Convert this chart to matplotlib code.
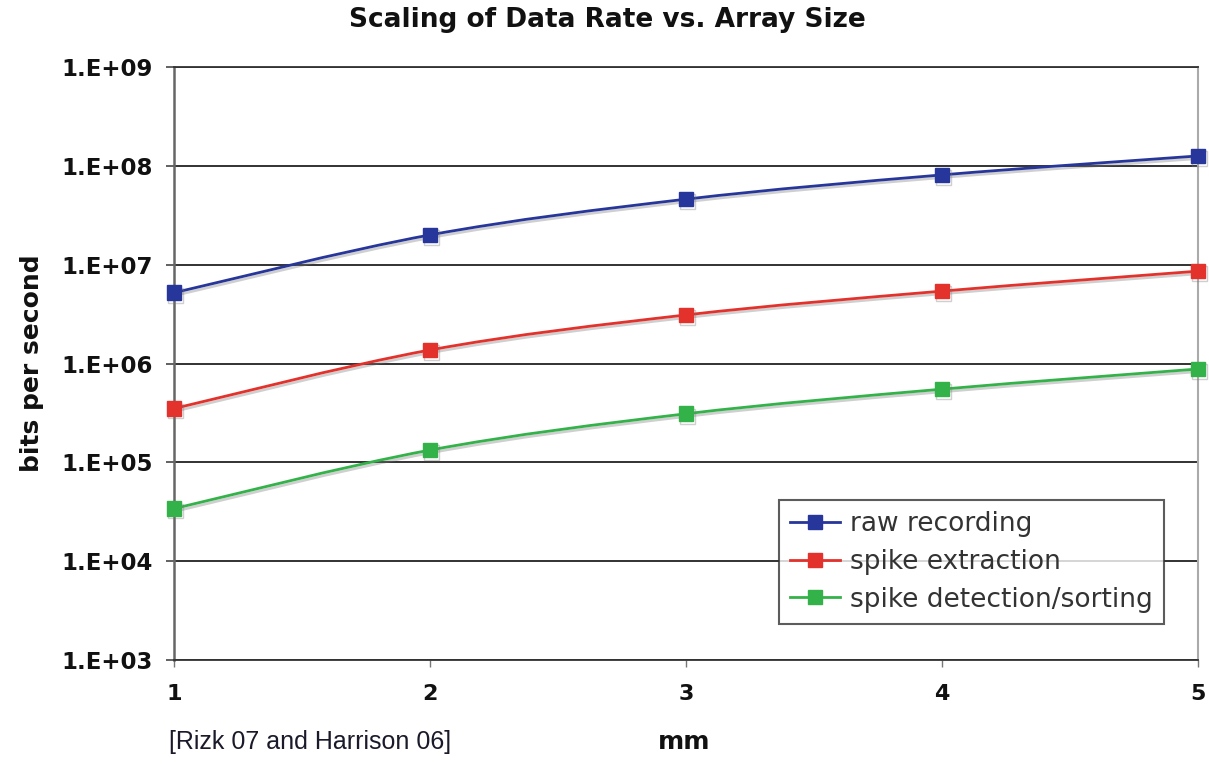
import math
import matplotlib
matplotlib.use("Agg")
import matplotlib.pyplot as plt
import matplotlib.patheffects as pe
from matplotlib.path import Path
from matplotlib.patches import PathPatch
from matplotlib.lines import Line2D
from matplotlib.ticker import FixedLocator, FuncFormatter

# ---- data ----
array_size_mm = [1, 2, 3, 4, 5]
raw_recording = [5.2e6, 2.0e7, 4.6e7, 8.1e7, 1.26e8]
spike_extraction = [3.5e5, 1.37e6, 3.1e6, 5.4e6, 8.6e6]
spike_detection_sorting = [3.4e4, 1.33e5, 3.1e5, 5.5e5, 8.8e5]
series_names = ["raw recording", "spike extraction", "spike detection/sorting"]
y_ticks = [1e3, 1e4, 1e5, 1e6, 1e7, 1e8, 1e9]

colors = ["#27369a", "#e3312c", "#34b24a"]

fig = plt.figure(figsize=(12.09, 7.66), dpi=100)
ax = fig.add_axes([0.1439, 0.1384, 0.9909 - 0.1439, 0.9125 - 0.1384])
ax.set_yscale("log")
ax.set_xlim(1, 5)
ax.set_ylim(1e3, 1e9)


def smooth_path(xs, ys):
    """Excel-style smoothed line: cubic Bezier segments through the data points
    (control points built in x / log10(y) space, drawn through the log axis)."""
    ly = [math.log10(v) for v in ys]
    n = len(xs)
    verts = [(xs[0], ys[0])]
    codes = [Path.MOVETO]
    for i in range(n - 1):
        xm, ym = (xs[i - 1], ly[i - 1]) if i > 0 else (xs[i], ly[i])
        xp2, yp2 = (xs[i + 2], ly[i + 2]) if i + 2 < n else (xs[i + 1], ly[i + 1])
        c1 = (xs[i] + (xs[i + 1] - xm) / 6, ly[i] + (ly[i + 1] - ym) / 6)
        c2 = (xs[i + 1] - (xp2 - xs[i]) / 6, ly[i + 1] - (yp2 - ly[i]) / 6)
        verts += [(c1[0], 10 ** c1[1]), (c2[0], 10 ** c2[1]), (xs[i + 1], ys[i + 1])]
        codes += [Path.CURVE4] * 3
    return Path(verts, codes)


shadow = [pe.SimpleLineShadow(offset=(1.2, -1.8), shadow_color="#777777", alpha=0.35), pe.Normal()]
handles = []
for vals, name, c in zip([raw_recording, spike_extraction, spike_detection_sorting], series_names, colors):
    patch = PathPatch(smooth_path(array_size_mm, vals), facecolor="none", edgecolor=c, lw=2.0,
                      transform=ax.transData, zorder=3, clip_on=False, path_effects=shadow)
    ax.add_patch(patch)
    ax.plot(array_size_mm, vals, ls="none", marker="s", markersize=10.5, color=c,
            markeredgecolor=c, clip_on=False, zorder=4, path_effects=shadow)
    handles.append(Line2D([], [], color=c, lw=2.0, marker="s", markersize=10, markeredgecolor=c,
                          label=name))

ax.yaxis.set_major_locator(FixedLocator(y_ticks))
ax.yaxis.set_minor_locator(FixedLocator([]))
ax.yaxis.set_major_formatter(FuncFormatter(lambda v, p: "1.E+%02d" % round(math.log10(v))))
ax.set_xticks(array_size_mm)
ax.set_xticklabels([str(v) for v in array_size_mm])

ax.grid(axis="y", color="#222222", lw=1.3)
ax.set_axisbelow(True)
ax.spines["left"].set_color("#666666")
ax.spines["left"].set_linewidth(1.8)
ax.spines["right"].set_color("#aaaaaa")
ax.spines["right"].set_linewidth(1.5)
ax.spines["bottom"].set_color("#333333")
ax.spines["bottom"].set_linewidth(1.3)
ax.spines["top"].set_color("#333333")
ax.spines["top"].set_linewidth(1.3)

ax.tick_params(axis="y", direction="out", length=6, width=1.3, color="#555555", pad=9,
               labelsize=16.5)
ax.tick_params(axis="x", direction="out", length=5, width=1.0, color="#777777", pad=12,
               labelsize=16)
for lbl in ax.get_xticklabels() + ax.get_yticklabels():
    lbl.set_fontweight("bold")
    lbl.set_color("#111111")

ax.set_ylabel("bits per second", fontsize=18, fontweight="bold", labelpad=13, color="#111111")
fig.text(0.566, 0.031, "mm", fontsize=18, fontweight="bold", ha="center", va="center", color="#111111")
fig.text(0.502, 0.974, "Scaling of Data Rate vs. Array Size", fontsize=19, fontweight="bold",
         ha="center", va="center", color="#111111")
fig.text(0.140, 0.031, "[Rizk 07 and Harrison 06]", fontsize=18,
         family=["Liberation Sans Narrow", "Liberation Sans", "DejaVu Sans"], ha="left", va="center",
         color="#1a1a2a")

leg = ax.legend(handles=handles, loc="lower right", bbox_to_anchor=(0.967, 0.061), fontsize=19,
                frameon=True, fancybox=False, borderpad=0.42, labelspacing=0.45, handlelength=1.9,
                handletextpad=0.4, borderaxespad=0)
leg.get_frame().set_edgecolor("#333333")
leg.get_frame().set_linewidth(1.5)
for t in leg.get_texts():
    t.set_color("#333333")

fig.savefig("out.png", dpi=100)
